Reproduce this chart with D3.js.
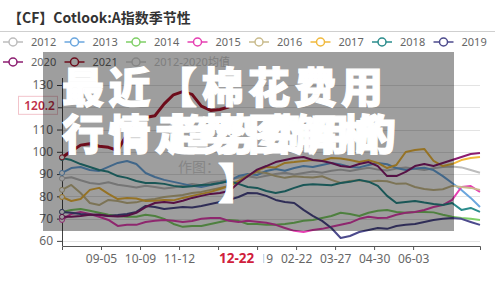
<!DOCTYPE html>
<html>
<head>
<meta charset="utf-8">
<title>CF Cotlook A 指数季节性</title>
<script src="https://d3js.org/d3.v7.min.js"></script>
<style>
    body {margin: 0; background: #fff;}
    svg {display: block; font-family: "Noto Sans", "Noto Sans CJK SC", sans-serif;}
</style>
</head>
<body>
<script>
// --- données : une valeur tous les 5 jours de cotation ---
var years = ["2012", "2013", "2014", "2015", "2016", "2017", "2018", "2019", "2020", "2021"];

var v2012 = [88.0, 88.6, 87.2, 86.0, 85.5, 86.3, 85.2, 84.6, 84.0, 84.8, 84.2, 83.5, 84.0, 84.8, 85.5, 85.0, 86.2, 86.8, 87.5, 88.3,
             89.0, 88.4, 89.2, 90.0, 90.6, 89.8, 90.5, 91.2, 90.6, 91.5, 92.0, 91.4, 92.2, 92.8, 92.0, 91.6, 92.5, 93.0, 92.4, 91.8,
             92.6, 93.2, 93.4, 93.0, 91.8, 90.6];
var v2013 = [90.5, 92.7, 93.2, 91.8, 91.4, 93.2, 95.0, 95.9, 94.5, 90.5, 88.7, 87.4, 86.5, 85.6, 84.7, 84.2, 85.1, 86.0, 86.9, 89.1,
             90.0, 89.6, 91.4, 92.3, 91.5, 92.7, 93.6, 93.2, 94.1, 95.0, 94.3, 93.2, 93.0, 94.1, 95.0, 94.4, 92.7, 91.8, 92.5, 92.8,
             91.8, 89.1, 86.0, 82.9, 79.3, 75.2];
var v2014 = [73.0, 73.9, 74.3, 73.5, 72.6, 71.7, 71.2, 70.8, 70.8, 71.7, 71.2, 69.9, 67.6, 66.3, 66.7, 66.7, 67.6, 68.5, 69.4, 69.0,
             67.6, 67.6, 67.2, 67.2, 67.6, 68.1, 69.0, 69.4, 70.3, 71.2, 72.6, 72.1, 71.2, 72.6, 73.5, 73.9, 73.0, 72.6, 73.0, 73.0,
             72.8, 71.7, 70.8, 70.3, 69.9, 69.4];
var v2015 = [69.4, 72.1, 73.0, 72.1, 70.8, 69.4, 66.7, 67.2, 67.2, 68.5, 69.0, 69.4, 69.0, 68.5, 68.9, 69.9, 70.3, 70.3, 69.0, 68.5,
             69.0, 68.6, 68.1, 67.2, 65.8, 64.5, 64.0, 64.9, 65.4, 66.3, 67.2, 68.1, 69.9, 70.8, 70.3, 70.4, 71.7, 72.6, 73.0, 73.9,
             75.2, 76.1, 78.4, 84.2, 84.6, 82.0];
var v2016 = [82.9, 85.1, 81.5, 77.0, 76.1, 78.4, 77.9, 77.0, 77.3, 78.4, 78.8, 79.7, 80.2, 80.6, 81.5, 82.0, 82.9, 83.8, 84.7, 86.5,
             89.6, 90.9, 90.5, 89.1, 88.3, 89.0, 88.7, 88.5, 89.0, 87.4, 86.0, 86.9, 87.2, 86.5, 87.0, 86.8, 85.6, 85.8, 84.2, 83.3,
             82.9, 83.2, 84.7, 84.2, 83.8, 82.9];
var v2017 = [79.7, 77.9, 78.8, 82.9, 83.8, 81.1, 78.8, 79.3, 79.0, 77.9, 78.0, 78.4, 78.2, 79.3, 80.2, 81.1, 82.0, 83.3, 84.7, 86.9,
             89.1, 91.4, 93.2, 93.0, 95.0, 95.4, 95.9, 96.3, 96.0, 97.2, 97.0, 96.3, 95.4, 96.2, 95.0, 92.7, 94.1, 99.9, 100.8, 101.3,
             95.9, 93.6, 94.5, 96.3, 97.2, 97.7];
var v2018 = [97.2, 96.3, 94.5, 93.2, 91.8, 91.0, 89.1, 88.3, 86.9, 86.0, 86.0, 85.6, 84.7, 84.2, 84.5, 85.1, 85.3, 86.0, 86.9, 85.6,
             84.2, 83.8, 82.4, 81.5, 82.3, 83.8, 85.1, 85.4, 85.2, 85.0, 86.0, 86.5, 87.4, 86.6, 84.7, 80.2, 77.0, 77.5, 77.9, 77.2,
             76.6, 76.1, 77.0, 73.9, 74.8, 73.0];
var v2019 = [73.0, 72.6, 72.1, 71.7, 71.7, 71.2, 71.6, 72.1, 73.0, 75.7, 75.2, 74.3, 74.8, 75.2, 75.0, 75.7, 76.6, 77.5, 78.4, 79.7,
             81.5, 81.4, 80.2, 78.4, 77.5, 77.0, 73.9, 71.2, 69.0, 65.8, 61.3, 62.2, 64.0, 64.9, 65.8, 65.4, 66.7, 67.2, 67.6, 68.5,
             69.4, 69.9, 70.3, 69.9, 68.5, 67.2];
var v2020 = [70.8, 70.8, 71.2, 71.7, 71.7, 71.2, 71.0, 71.3, 72.6, 75.2, 77.0, 77.5, 77.0, 78.0, 79.3, 80.2, 81.1, 81.5, 82.4, 86.0,
             89.0, 92.0, 93.6, 95.4, 96.3, 97.2, 97.7, 96.3, 95.9, 95.0, 93.6, 93.2, 94.5, 95.4, 93.6, 89.1, 89.1, 91.0, 93.6, 94.5,
             93.6, 95.0, 96.3, 97.7, 99.0, 99.5];
var v2021 = [97.5, 100.2, 103.0, 103.6, 102.5, 102.0, 100.6, 108.0, 115.0, 115.4, 116.2, 121.5, 125.6, 127.0, 125.8, 120.5, 118.6,
             119.0, 120.2];

var tickDays = [21, 42, 63, 84, 105, 126, 147, 168, 189];
var tickLabels = ["09-05", "10-09", "11-12", "", "01-19", "02-22", "03-27", "04-30", "06-03"];
var yTicks = [60, 70, 80, 90, 100, 110, 120, 130];
var lastValue = 120.2, lastDate = "12-22", lastDay = 94;

var series = [v2012, v2013, v2014, v2015, v2016, v2017, v2018, v2019, v2020, v2021];
var colors = ["#bdbdbd", "#6aa6de", "#7fcf66", "#e63fb2", "#c9bb8c", "#f1b93c", "#2a8c8c", "#4c4a8c", "#8c1c70", "#b0142c"];

var svg = d3.select("body").append("svg")
    .attr("width", 500)
    .attr("height", 283);

// titre
svg.append("text")
    .attr("x", 8).attr("y", 23)
    .attr("font-family", "'Noto Sans CJK SC', sans-serif")
    .attr("font-size", 14).attr("font-weight", "bold").attr("fill", "#333")
    .text("【CF】Cotlook:A指数季节性");

svg.append("line")
    .attr("x1", 0).attr("x2", 495).attr("y1", 31.5).attr("y2", 31.5)
    .attr("stroke", "#cfcfcf");

// légende
var legendItems = years.map(function(y, i) { return {name: y, color: colors[i], on: true}; });
legendItems.push({name: "2012-2020均值", color: "#d6d6d6", on: false});

var legend = svg.selectAll(".leg")
    .data(legendItems)
    .enter().append("g")
    .attr("class", "leg")
    .attr("transform", function(d, i) {
        var col = i < 8 ? i : i - 8, row = i < 8 ? 0 : 1;
        return "translate(" + (3 + col * 61.5) + "," + (42 + row * 20) + ")";
    });

legend.append("line")
    .attr("x1", 0).attr("x2", 20)
    .attr("stroke", function(d) { return d.color; })
    .attr("stroke-width", 1.5);
legend.append("circle")
    .attr("cx", 10).attr("r", 4)
    .attr("fill", "#fff")
    .attr("stroke", function(d) { return d.color; })
    .attr("stroke-width", 1.5);
legend.append("text")
    .attr("x", 28).attr("dy", "0.35em")
    .attr("font-size", 11)
    .attr("fill", function(d) { return d.on ? "#666" : "#ccc"; })
    .text(function(d) { return d.name; });

// échelles
var x = d3.scaleLinear().domain([0, 225]).range([62, 480]);
var y = d3.scaleLinear().domain([57.7, 130]).range([246, 85]);

var chart = svg.append("g");

chart.selectAll(".grid")
    .data(yTicks)
    .enter().append("line")
    .attr("x1", 62).attr("x2", 480)
    .attr("y1", function(d) { return Math.round(y(d)) + 0.5; })
    .attr("y2", function(d) { return Math.round(y(d)) + 0.5; })
    .attr("stroke", "#e3e3e3");

// le libellé 120 est masqué par l'étiquette du pointeur
var yAxis = chart.append("g")
    .attr("transform", "translate(62,0)")
    .call(d3.axisLeft(y).tickValues(yTicks).tickSize(5).tickPadding(4)
        .tickFormat(function(d) { return d == 120 ? "" : d; }));
yAxis.select(".domain").remove();
yAxis.selectAll("line").attr("stroke", "#444");
yAxis.selectAll("text").attr("font-size", 12).attr("fill", "#666")
    .attr("font-family", "'Noto Sans', sans-serif");
chart.append("line")
    .attr("x1", 62.5).attr("x2", 62.5).attr("y1", 78).attr("y2", 246)
    .attr("stroke", "#444");

var xAxis = chart.append("g")
    .attr("transform", "translate(0,246)")
    .call(d3.axisBottom(x).tickValues(tickDays).tickFormat(function(d, i) { return tickLabels[i]; })
        .tickSize(4).tickPadding(4));
xAxis.select(".domain").attr("stroke", "#555");
xAxis.selectAll("line").attr("stroke", "#555");
xAxis.selectAll("text").attr("font-size", 12).attr("fill", "#666")
    .attr("font-family", "'Noto Sans', sans-serif");

// filigrane
chart.append("text")
    .attr("x", 178).attr("y", 172)
    .attr("font-family", "'Noto Sans CJK SC', sans-serif")
    .attr("font-size", 14).attr("fill", "#d8d8d8")
    .text("作图：");

// courbes
var line = d3.line()
    .x(function(d, i) { return x(i * 5); })
    .y(function(d) { return y(d); });

chart.selectAll(".serie")
    .data(series)
    .enter().append("path")
    .attr("class", "serie")
    .attr("d", line)
    .attr("fill", "none")
    .attr("stroke", function(d, i) { return colors[i]; })
    .attr("stroke-width", function(d, i) { return i == 9 ? 3 : 2; })
    .attr("stroke-linejoin", "round");

chart.selectAll(".start")
    .data(series)
    .enter().append("circle")
    .attr("cx", x(0)).attr("cy", function(d) { return y(d[0]); })
    .attr("r", 2.5).attr("fill", "#fff")
    .attr("stroke", function(d, i) { return colors[i]; });

// étiquettes du pointeur
chart.append("rect")
    .attr("x", 18.5).attr("y", y(lastValue) - 10.5)
    .attr("width", 39).attr("height", 18)
    .attr("fill", "#fff").attr("stroke", "#f2c4cb");
chart.append("text")
    .attr("x", 55).attr("y", y(lastValue) - 1.5)
    .attr("dy", "0.35em").attr("text-anchor", "end")
    .attr("font-size", 12).attr("font-weight", 600).attr("fill", "#c0304a")
    .text(lastValue.toFixed(1));

chart.append("rect")
    .attr("x", x(lastDay) - 27).attr("y", 250)
    .attr("width", 54).attr("height", 18)
    .attr("fill", "#fff");
chart.append("text")
    .attr("x", x(lastDay)).attr("y", 263)
    .attr("text-anchor", "middle")
    .attr("font-size", 13.5).attr("font-weight", "bold").attr("fill", "#d0203c")
    .text(lastDate);

// bandeau gris par-dessus
svg.append("rect")
    .attr("x", 43).attr("y", 52)
    .attr("width", 411).attr("height", 179)
    .attr("fill", "#000").attr("opacity", 0.38);

var big = svg.append("g")
    .attr("font-family", "'Noto Sans CJK SC', sans-serif")
    .attr("font-size", 42).attr("font-weight", 900)
    .attr("fill", "#fff")
    .attr("stroke", "#fff").attr("stroke-width", 1.2)
    .attr("letter-spacing", 4.5);

big.append("text").attr("x", 62).attr("y", 103).text("最近【棉花费用");
big.append("text").attr("x", 62).attr("y", 150).text("行情走势图解析");
big.append("text").attr("x", 168).attr("y", 150).text("趋势费用的");
big.append("text").attr("x", 218).attr("y", 199).text("】");
</script>
</body>
</html>
